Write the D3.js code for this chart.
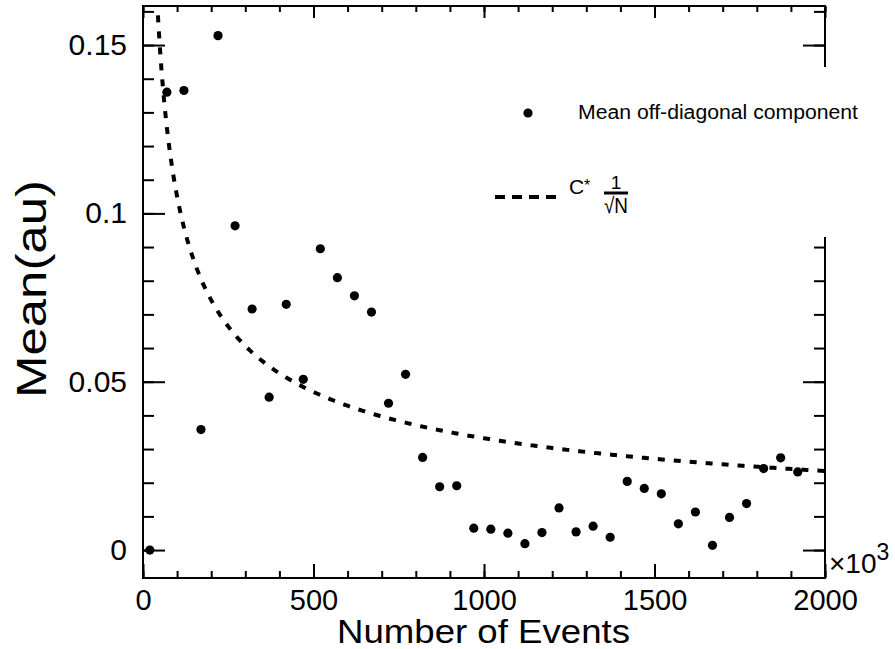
<!DOCTYPE html>
<html>
<head>
<meta charset="utf-8">
<script src="https://cdn.jsdelivr.net/npm/d3@7"></script>
<style>
  body { margin: 0; background: #fff; }
  svg { display: block; font-family: "Liberation Sans", Arial, Helvetica, sans-serif; }
</style>
</head>
<body>
<svg width="895" height="649"></svg>
<script>
// Number of events (x10^3) and the mean off-diagonal component
const events = [20, 70, 120, 170, 220, 270, 320, 370, 420, 470,
  520, 570, 620, 670, 720, 770, 820, 870, 920, 970,
  1020, 1070, 1120, 1170, 1220, 1270, 1320, 1370, 1420, 1470,
  1520, 1570, 1620, 1670, 1720, 1770, 1820, 1870, 1920];
const meanOffDiag = [0.000, 0.136, 0.1365, 0.0358, 0.1528, 0.0963, 0.0716, 0.0454, 0.0730, 0.0507,
  0.0895, 0.0809, 0.0755, 0.0707, 0.0436, 0.0522, 0.0275, 0.0188, 0.0191, 0.0065,
  0.0062, 0.0050, 0.0019, 0.0052, 0.0125, 0.0054, 0.0071, 0.0038, 0.0204, 0.0183,
  0.0167, 0.0078, 0.0113, 0.0014, 0.0097, 0.0138, 0.0242, 0.0274, 0.0232];

// fit constant for C * 1/sqrt(N)
const fitC = 1.05;

const xMajor = [0, 500, 1000, 1500, 2000];
const yMajor = [0, 0.05, 0.1, 0.15];
const yTickLabels = ['0', '0.05', '0.1', '0.15'];

const svg = d3.select('svg');
const frame = { left: 143, right: 825, top: 6, bottom: 578 };

const x = d3.scaleLinear().domain([0, 2000]).range([frame.left, frame.right]);
const y = d3.scaleLinear().domain([-0.0083, 0.1616]).range([frame.bottom, frame.top]);

const xMinor = d3.range(0, 2001, 100);
const yMinor = d3.range(0, 0.165, 0.01);

const noLabel = () => '';

// ticks pointing into the frame on all four sides
function tickAxis(axis, transform) {
  svg.append('g')
    .attr('transform', transform)
    .call(axis)
    .call(g => g.select('.domain').remove())
    .call(g => g.selectAll('line').attr('stroke', '#000').attr('stroke-width', 2));
}
tickAxis(d3.axisRight(y).tickValues(yMinor).tickSize(11).tickFormat(noLabel), `translate(${frame.left},0)`);
tickAxis(d3.axisRight(y).tickValues(yMajor).tickSize(22).tickFormat(noLabel), `translate(${frame.left},0)`);
tickAxis(d3.axisLeft(y).tickValues(yMinor).tickSize(11).tickFormat(noLabel), `translate(${frame.right},0)`);
tickAxis(d3.axisLeft(y).tickValues(yMajor).tickSize(22).tickFormat(noLabel), `translate(${frame.right},0)`);
tickAxis(d3.axisTop(x).tickValues(xMinor).tickSize(7).tickFormat(noLabel), `translate(0,${frame.bottom})`);
tickAxis(d3.axisTop(x).tickValues(xMajor).tickSize(14).tickFormat(noLabel), `translate(0,${frame.bottom})`);
tickAxis(d3.axisBottom(x).tickValues(xMinor).tickSize(6).tickFormat(noLabel), `translate(0,${frame.top})`);
tickAxis(d3.axisBottom(x).tickValues(xMajor).tickSize(12).tickFormat(noLabel), `translate(0,${frame.top})`);

// frame
svg.append('rect')
  .attr('x', frame.left).attr('y', frame.top)
  .attr('width', frame.right - frame.left).attr('height', frame.bottom - frame.top)
  .attr('fill', 'none').attr('stroke', '#000').attr('stroke-width', 2);

// tick labels
svg.append('g')
  .attr('transform', `translate(${frame.left},0)`)
  .call(d3.axisLeft(y).tickValues(yMajor).tickSize(0).tickPadding(16)
    .tickFormat((d, i) => yTickLabels[i]))
  .call(g => g.select('.domain').remove())
  .call(g => g.selectAll('text').attr('font-size', 30).attr('font-family', null).attr('fill', '#000'));

svg.append('g')
  .attr('transform', `translate(0,${frame.bottom})`)
  .call(d3.axisBottom(x).tickValues(xMajor).tickSize(0).tickPadding(11).tickFormat(d3.format('d')))
  .call(g => g.select('.domain').remove())
  .call(g => g.selectAll('text').attr('font-size', 29).attr('font-family', null).attr('fill', '#000'));

// x10^3 multiplier
const mult = svg.append('text').attr('x', 829).attr('y', 573).attr('font-size', 28);
mult.append('tspan').text('\u00d710');
mult.append('tspan').attr('font-size', 23).attr('dy', -13).text('3');

// axis titles
svg.append('text')
  .attr('x', 337).attr('y', 643)
  .attr('font-size', 33)
  .attr('textLength', 293)
  .attr('lengthAdjust', 'spacingAndGlyphs')
  .text('Number of Events');

svg.append('text')
  .attr('transform', 'translate(46,398) rotate(-90)')
  .attr('font-size', 42)
  .attr('textLength', 218)
  .attr('lengthAdjust', 'spacingAndGlyphs')
  .text('Mean(au)');

// fit curve, clipped to the frame
svg.append('clipPath').attr('id', 'plotClip')
  .append('rect')
  .attr('x', frame.left).attr('y', frame.top)
  .attr('width', frame.right - frame.left).attr('height', frame.bottom - frame.top);

const curveN = d3.range(20, 2001, 5);
const line = d3.line()
  .x(n => x(n))
  .y(n => y(fitC / Math.sqrt(n)));

svg.append('path')
  .datum(curveN)
  .attr('clip-path', 'url(#plotClip)')
  .attr('d', line)
  .attr('fill', 'none')
  .attr('stroke', '#000')
  .attr('stroke-width', 4)
  .attr('stroke-dasharray', '7,9');

// data points
svg.append('g')
  .selectAll('circle')
  .data(events)
  .join('circle')
  .attr('cx', d => x(d))
  .attr('cy', (d, i) => y(meanOffDiag[i]))
  .attr('r', 4.6)
  .attr('fill', '#000');

// legend box (white, covers part of right axis)
const legend = svg.append('g');
legend.append('rect')
  .attr('x', 480).attr('y', 67)
  .attr('width', 350).attr('height', 170)
  .attr('fill', '#fff');

legend.append('circle').attr('cx', 528).attr('cy', 113).attr('r', 4.6).attr('fill', '#000');
legend.append('text')
  .attr('x', 578).attr('y', 119)
  .attr('font-size', 20)
  .attr('textLength', 280)
  .attr('lengthAdjust', 'spacingAndGlyphs')
  .text('Mean off-diagonal component');

legend.append('line')
  .attr('x1', 495).attr('x2', 560)
  .attr('y1', 197).attr('y2', 197)
  .attr('stroke', '#000').attr('stroke-width', 4)
  .attr('stroke-dasharray', '10,7');

legend.append('text').attr('x', 569).attr('y', 194).attr('font-size', 21).text('C');
legend.append('text').attr('x', 584).attr('y', 191).attr('font-size', 16).text('*');
legend.append('text').attr('x', 616).attr('y', 189).attr('font-size', 19)
  .attr('text-anchor', 'middle').text('1');
legend.append('line')
  .attr('x1', 604).attr('x2', 628)
  .attr('y1', 193).attr('y2', 193)
  .attr('stroke', '#000').attr('stroke-width', 3);
legend.append('text').attr('x', 616).attr('y', 213).attr('font-size', 22)
  .attr('textLength', 24)
  .attr('lengthAdjust', 'spacingAndGlyphs')
  .attr('text-anchor', 'middle').text('\u221aN');
</script>
</body>
</html>
